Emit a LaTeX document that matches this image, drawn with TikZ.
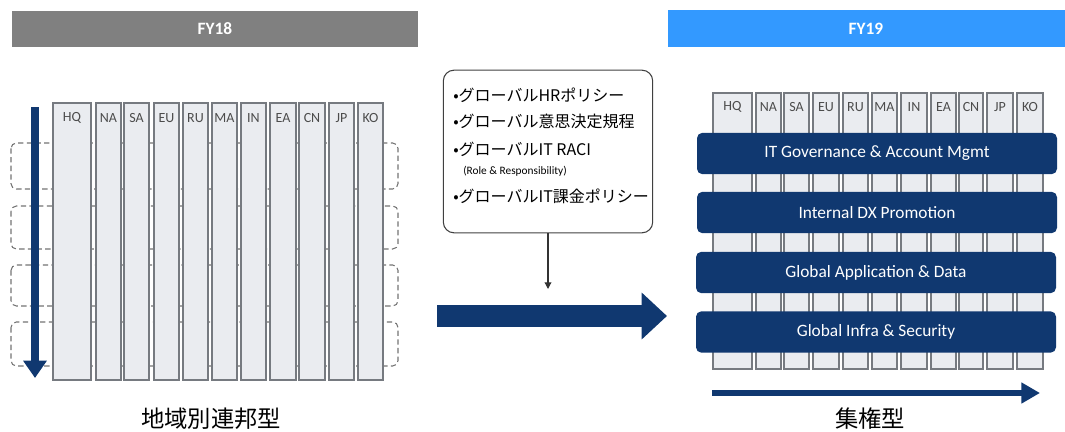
\documentclass[tikz,border=0pt]{standalone}
\usepackage{fontspec}
\setmainfont{Carlito}
\newfontfamily\jpfont{Noto Sans CJK JP}
\usetikzlibrary{arrows.meta}

\definecolor{fygray}{RGB}{128,128,128}
\definecolor{fyblue}{RGB}{51,153,255}
\definecolor{deepnavy}{RGB}{16,56,112}
\definecolor{colfill}{RGB}{234,236,240}
\definecolor{colline}{RGB}{118,122,128}

\begin{document}
\begin{tikzpicture}[x=0.75pt, y=-0.75pt,
    column/.style={fill=colfill, draw=colline, line width=0.8pt},
    collabel/.style={text=black!70, font=\fontsize{10.5}{10.5}\selectfont, inner sep=0pt},
    dashbox/.style={draw=black!55, dash pattern=on 4pt off 2.5pt, line width=0.8pt, rounded corners=4pt},
    band/.style={fill=deepnavy, rounded corners=4pt, text=white, font=\fontsize{13}{13}\selectfont,
      minimum width=270pt, minimum height=31pt, inner sep=0pt},
    hdrtext/.style={text=white, font=\bfseries\fontsize{13}{13}\selectfont},
    policytext/.style={anchor=west, inner sep=0pt, font=\jpfont\fontsize{12}{12}\selectfont},
    caption/.style={font=\jpfont\fontsize{17.5}{17.5}\selectfont},
    navyarrow/.style={draw=deepnavy, line width=#1}]
  \useasboundingbox (0,0) rectangle (1065,432);

  % headers
  \fill[fygray] (12,11) rectangle (418,47);
  \node[hdrtext] (fy18) at (215,29) {FY18};
  \fill[fyblue] (668,10) rectangle (1065,47);
  \node[hdrtext] (fy19) at (866,28.5) {FY19};

  % FY18: regions side by side, dashed groups behind them
  \foreach \ya/\yb in {143/189, 206/249, 265/306, 322/366}
    \draw[dashbox] (11,\ya) rectangle (398,\yb);
  \foreach \lbl/\xa/\xb in {HQ/53/91, NA/96/121, SA/124/149, EU/154/179, RU/183/208, MA/212/237,
      IN/241/266, EA/270/296, CN/299/325, JP/329/354, KO/358/383} {
    \draw[column] (\xa,103) rectangle (\xb,380);
    \node[collabel] (old-\lbl) at ({(\xa+\xb)/2},118) {\lbl};
  }
  \coordinate (downtop) at (35,107);
  \coordinate (downend) at (35,378);
  \draw[navyarrow=5.5pt, -{Triangle[width=17pt, length=13pt]}] (downtop) -- (downend);
  \node[caption] (federal) at (211,419) {地域別連邦型};

  % global policies
  \node[draw=black!75, line width=0.8pt, rounded corners=8pt, minimum width=157pt, minimum height=122pt]
    (policy) at (548,151.5) {};
  \node[policytext] (hr) at (453,95) {•グローバルHRポリシー};
  \node[policytext] (decide) at (453,121) {•グローバル意思決定規程};
  \node[policytext] (raci) at (453,149) {•グローバルIT RACI};
  \node[anchor=west, inner sep=0pt, font=\fontsize{8.5}{8.5}\selectfont] (role) at (463,171) {(Role \& Responsibility)};
  \node[policytext] (charge) at (453,196) {•グローバルIT課金ポリシー};
  \coordinate (drop) at (548,289);
  \draw[line width=0.9pt, black!80, -{Triangle[width=5pt, length=5pt]}] (policy.south) -- (drop);

  % FY18 -> FY19
  \coordinate (shiftfrom) at (437,316);
  \coordinate (shiftto) at (667,316);
  \draw[navyarrow=16.5pt, -{Triangle[width=34pt, length=19pt]}] (shiftfrom) -- (shiftto);

  % FY19: regions under global functions
  \foreach \lbl/\xa/\xb in {HQ/713/752, NA/756/781, SA/784/809, EU/813/839, RU/843/868, MA/872/897,
      IN/901/927, EA/931/956, CN/959/983, JP/987/1013, KO/1017/1043} {
    \draw[column] (\xa,93) rectangle (\xb,369);
    \node[collabel] (new-\lbl) at ({(\xa+\xb)/2},107) {\lbl};
  }
  \node[band] (gov) at (877,153.5) {IT Governance \& Account Mgmt};
  \node[band] (dx) at (877,212.5) {Internal DX Promotion};
  \node[band] (app) at (876,272.5) {Global Application \& Data};
  \node[band] (infra) at (876,332) {Global Infra \& Security};
  \coordinate (acrossfrom) at (712,393);
  \coordinate (acrossto) at (1040,393);
  \draw[navyarrow=3.8pt, -{Triangle[width=15pt, length=14pt]}] (acrossfrom) -- (acrossto);
  \node[caption] (central) at (870,419) {集権型};
\end{tikzpicture}
\end{document}
